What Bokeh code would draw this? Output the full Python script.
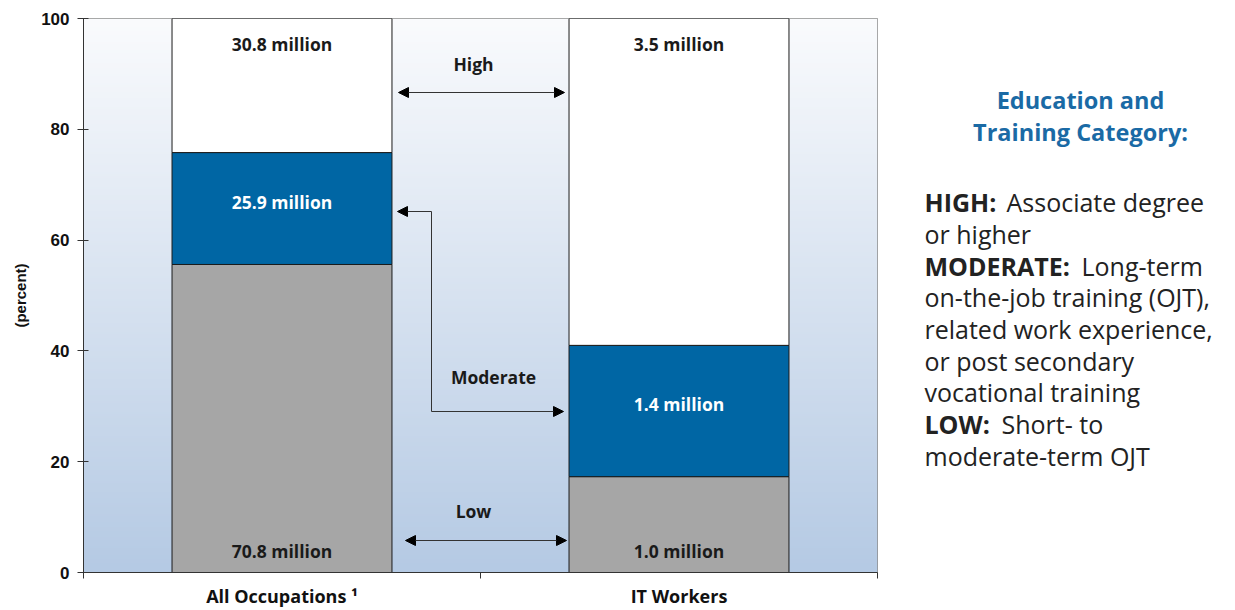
import numpy as np
from bokeh.plotting import figure
from bokeh.layouts import row
from bokeh.models import ColumnDataSource, Range1d, FixedTicker, Arrow, NormalHead, Label
from bokeh.core.properties import value
from bokeh.embed import file_html
from bokeh.resources import INLINE

# ---------------- data ----------------
categories = ["All Occupations \u00b9", "IT Workers"]
levels = ["low", "moderate", "high"]
low_pct = [55.6, 17.3]
moderate_pct = [20.2, 23.7]
high_pct = [24.2, 59.0]
low_millions = ["70.8 million", "1.0 million"]
moderate_millions = ["25.9 million", "1.4 million"]
high_millions = ["30.8 million", "3.5 million"]
y_ticks = [0, 20, 40, 60, 80, 100]
arrow_labels = ["High", "Moderate", "Low"]

legend_title = ["Education and", "Training Category:"]
legend_bold = ["HIGH:", "", "MODERATE:", "", "", "", "", "LOW:", ""]
legend_rest = ["Associate degree", "or higher", "Long-term", "on-the-job training (OJT),",
               "related work experience,", "or post secondary", "vocational training",
               "Short- to", "moderate-term OJT"]

# ---------------- layout helpers ----------------
W, H = 1227, 610
FRAME_L, FRAME_T, FRAME_R, FRAME_B = 83, 18, 877, 572  # px
PX_X = (FRAME_R - FRAME_L) / 2.0
PX_Y = (FRAME_B - FRAME_T) / 100.0
P_W = FRAME_R + 8


def dx(px):
    return (px - FRAME_L) / PX_X


def dy(py):
    return (FRAME_B - py) / PX_Y


x = [i + 0.5 for i in range(len(categories))]
bar_w = 0.554

p = figure(width=P_W, height=H, x_range=Range1d(0, 2), y_range=Range1d(0, 100),
           output_backend="svg", toolbar_location=None,
           min_border_left=FRAME_L, min_border_right=P_W - FRAME_R,
           min_border_top=FRAME_T, min_border_bottom=H - FRAME_B)
p.background_fill_color = "white"
p.border_fill_color = "white"
p.outline_line_color = "#8c8c8c"
p.outline_line_width = 1
p.grid.visible = False

# background gradient of the plotting area
n = 256
t = np.linspace(0, 1, n)
c_bot = np.array([181, 202, 228])
c_top = np.array([250, 251, 253])
cols = (c_bot + (c_top - c_bot) * t[:, None]).astype(np.uint8)
img = np.zeros((n, 1), dtype=np.uint32)
view = img.view(dtype=np.uint8).reshape((n, 1, 4))
view[:, 0, 0] = cols[:, 0]
view[:, 0, 1] = cols[:, 1]
view[:, 0, 2] = cols[:, 2]
view[:, 0, 3] = 255
p.image_rgba(image=[img], x=0, y=0, dw=2, dh=100)

source = ColumnDataSource(dict(x=x, low=low_pct, moderate=moderate_pct, high=high_pct))
p.vbar_stack(levels, x="x", width=bar_w, color=["#a6a6a6", "#0066a4", "#ffffff"],
             line_color="#1a1a1a", line_width=1, source=source)

tot = [a + b + c for a, b, c in zip(low_pct, moderate_pct, high_pct)]
mid = [a + b / 2 for a, b in zip(low_pct, moderate_pct)]
lab = ColumnDataSource(dict(x=x, top=tot, mid=mid, bot=[0] * len(x),
                            hl=high_millions, ml=moderate_millions, ll=low_millions))
common = dict(text_align="center", text_baseline="middle", text_font=value("Open Sans"),
              text_font_style="bold", text_font_size="17.5px", source=lab)
p.text(x="x", y="top", text="hl", y_offset=25, text_color="#1a1a1a", **common)
p.text(x="x", y="mid", text="ml", y_offset=-7, text_color="#ffffff", **common)
p.text(x="x", y="bot", text="ll", y_offset=-22, text_color="#1a1a1a", **common)


def head():
    return NormalHead(size=10, fill_color="black", line_color="black")


ac = dict(line_color="#333333", line_width=1)
# High
p.add_layout(Arrow(start=head(), end=head(), x_start=dx(398), y_start=dy(92),
                   x_end=dx(564), y_end=dy(92), **ac))
# Low
p.add_layout(Arrow(start=head(), end=head(), x_start=dx(405), y_start=dy(540),
                   x_end=dx(566), y_end=dy(540), **ac))
# Moderate elbow
p.add_layout(Arrow(end=head(), x_start=dx(431), y_start=dy(211),
                   x_end=dx(397), y_end=dy(211), **ac))
p.add_layout(Arrow(end=None, x_start=dx(431), y_start=dy(211),
                   x_end=dx(431), y_end=dy(411), **ac))
p.add_layout(Arrow(end=head(), x_start=dx(431), y_start=dy(411),
                   x_end=dx(563), y_end=dy(411), **ac))

for txt, (px_, py_) in zip(arrow_labels, [(473, 63), (493, 376), (473, 510)]):
    p.add_layout(Label(x=dx(px_), y=dy(py_), text=txt, text_align="center",
                       text_baseline="middle", text_font="Open Sans",
                       text_font_style="bold", text_font_size="17.5px", text_color="#1a1a1a"))

# axes
xa = p.xaxis[0]
xa.ticker = FixedTicker(ticks=x, minor_ticks=[0, 1, 2])
xa.major_label_overrides = {xi: c for xi, c in zip(x, categories)}
xa.major_tick_out = 0
xa.major_tick_in = 0
xa.minor_tick_out = 6
xa.minor_tick_in = 0
xa.major_label_standoff = 5
xa.major_label_text_font = "Open Sans"
xa.major_label_text_font_style = "bold"
xa.major_label_text_font_size = "18px"
xa.major_label_text_color = "#111111"
xa.axis_line_color = "#333333"
xa.minor_tick_line_color = "#333333"

ya = p.yaxis[0]
ya.ticker = FixedTicker(ticks=y_ticks)
ya.major_tick_out = 6
ya.major_tick_in = 5
ya.minor_tick_out = 0
ya.minor_tick_in = 0
ya.major_label_standoff = 8
ya.major_label_text_font = "Liberation Sans"
ya.major_label_text_font_style = "bold"
ya.major_label_text_font_size = "17px"
ya.major_label_text_color = "#111111"
ya.axis_label = "(percent)"
ya.axis_label_standoff = 9
ya.axis_label_text_font = "Liberation Sans"
ya.axis_label_text_font_style = "bold"
ya.axis_label_text_font_size = "15px"
ya.axis_label_text_color = "#111111"
ya.axis_line_color = "#333333"
ya.major_tick_line_color = "#333333"

# ---------------- legend panel (pixel coordinates, y downward) ----------------
q = figure(width=W - P_W, height=H, x_range=Range1d(P_W, W), y_range=Range1d(FRAME_B, FRAME_T),
           output_backend="svg", toolbar_location=None, x_axis_type=None, y_axis_type=None,
           min_border_left=0, min_border_right=0, min_border_top=FRAME_T,
           min_border_bottom=H - FRAME_B)
q.outline_line_color = None
q.grid.visible = False
q.background_fill_color = "white"
q.border_fill_color = "white"

tsrc = ColumnDataSource(dict(x=[1080] * len(legend_title),
                             y=[99 + 32 * i for i in range(len(legend_title))],
                             t=legend_title))
q.text(x="x", y="y", text="t", source=tsrc, text_align="center", text_baseline="middle",
       text_font=value("Open Sans"), text_font_style="bold", text_font_size="23.5px",
       text_color="#1a6aa5")

cont_x = {"HIGH:": 1006, "MODERATE:": 1081, "LOW:": 1001, "": 924}
ys = [201.7 + 31.7 * i for i in range(len(legend_rest))]
bsrc = ColumnDataSource(dict(x=[924] * sum(1 for b in legend_bold if b),
                             y=[yy for yy, b in zip(ys, legend_bold) if b],
                             t=[b for b in legend_bold if b]))
rsrc = ColumnDataSource(dict(x=[cont_x[b] for b in legend_bold], y=ys, t=legend_rest))
q.text(x="x", y="y", text="t", source=bsrc, text_align="left", text_baseline="middle",
       text_font=value("Open Sans"), text_font_style="bold", text_font_size="25px",
       text_color="#222222")
q.text(x="x", y="y", text="t", source=rsrc, text_align="left", text_baseline="middle",
       text_font=value("Open Sans"), text_font_style="normal", text_font_size="25px",
       text_color="#222222")

layout = row(p, q)
open("out.html", "w").write(file_html(layout, INLINE))
